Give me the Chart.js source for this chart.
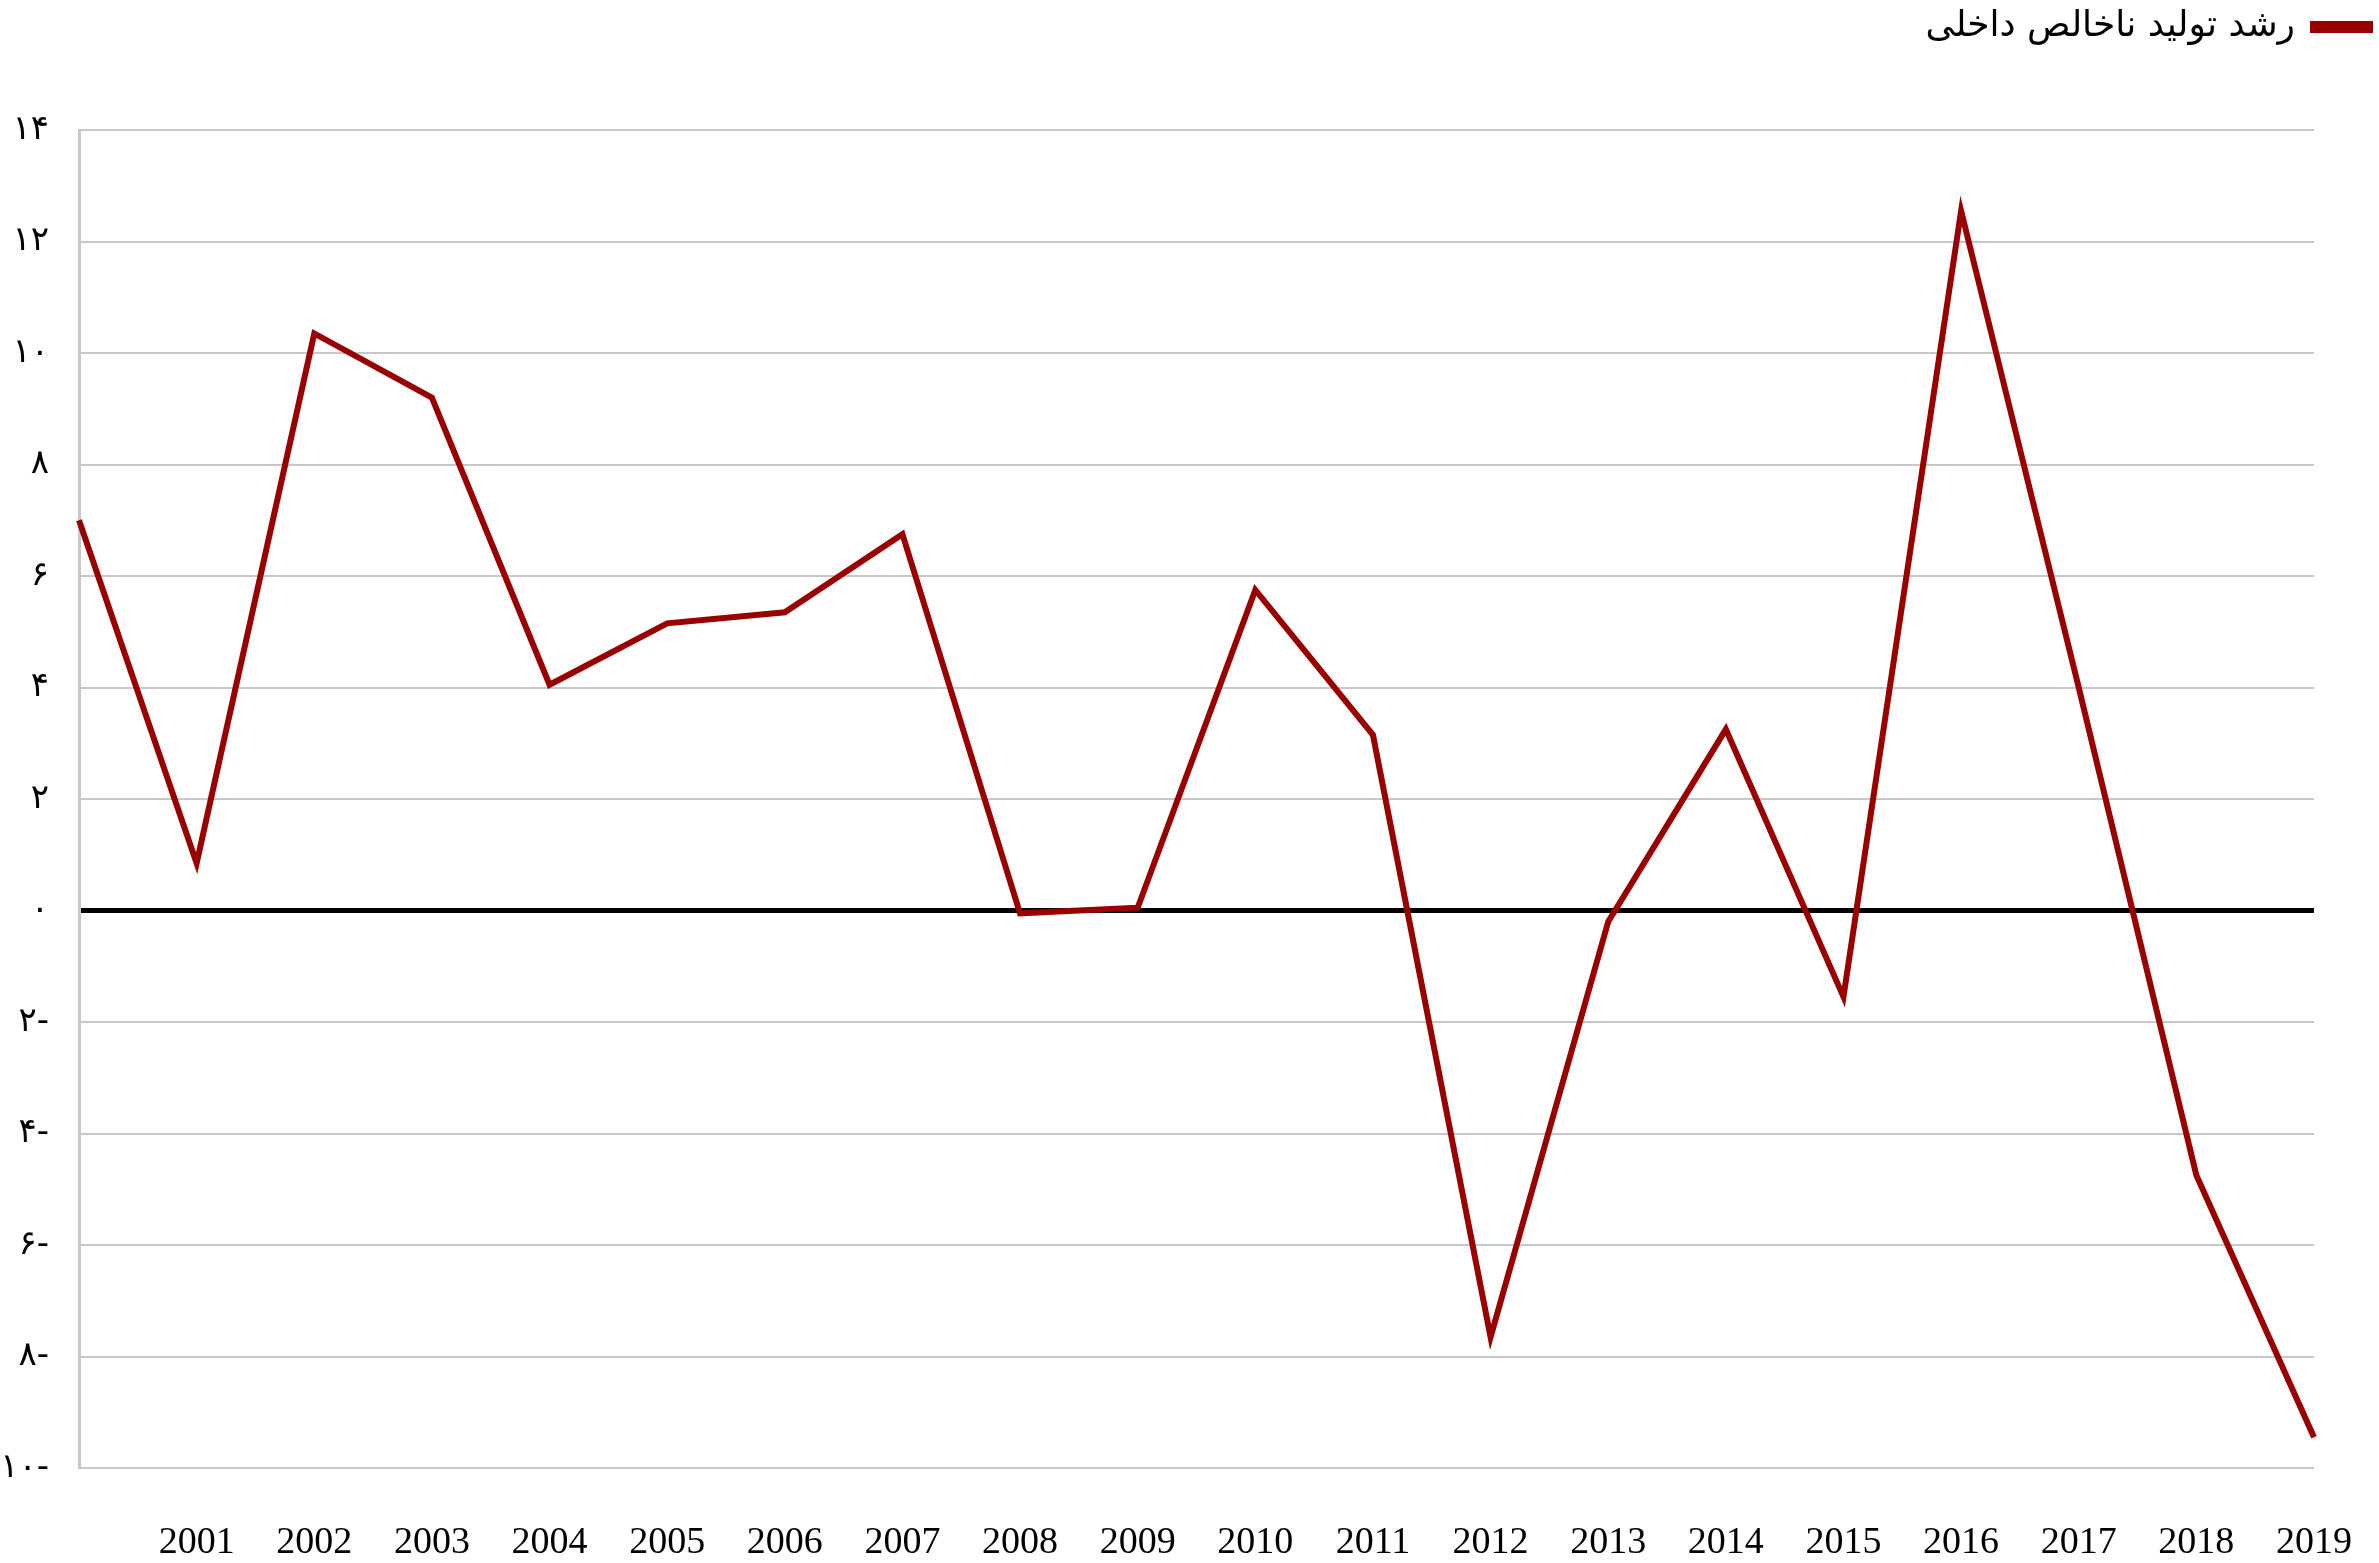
<!DOCTYPE html>
<html>
<head>
<meta charset="utf-8">
<script src="https://cdn.jsdelivr.net/npm/chart.js@4.4.1/dist/chart.umd.min.js"></script>
<style>
    body { margin: 0; background: #fff; }
    canvas { display: block; }
</style>
</head>
<body>
<canvas id="gdpChart" width="2379" height="1563"></canvas>
<script>
const years = ["", "2001", "2002", "2003", "2004", "2005", "2006", "2007", "2008", "2009",
    "2010", "2011", "2012", "2013", "2014", "2015", "2016", "2017", "2018", "2019"];
const growth = [7.0, 0.85, 10.35, 9.2, 4.05, 5.15, 5.35, 6.75, -0.05, 0.05,
    5.75, 3.15, -7.65, -0.2, 3.25, -1.55, 12.55, 4.0, -4.75, -9.45];
const yTickValues = [-10, -8, -6, -4, -2, 0, 2, 4, 6, 8, 10, 12, 14];
const yTickLabels = ["۱۰-", "۸-", "۶-", "۴-", "۲-", "۰", "۲", "۴", "۶", "۸", "۱۰", "۱۲", "۱۴"];
const seriesName = "رشد تولید ناخالص داخلی";

Chart.defaults.color = "#000";

// keep the legend band tall so the plot starts lower, like the original
const legendHeight = {
    id: "legendHeight",
    beforeUpdate(chart) {
        const lg = chart.legend;
        if (lg && !lg._patched) {
            const fit = lg.fit;
            lg.fit = function () {
                fit.call(this);
                this.height = 130;
            };
            lg._patched = true;
        }
    }
};

const ctx = document.getElementById("gdpChart");

new Chart(ctx, {
    type: "line",
    data: {
        labels: years,
        datasets: [{
            label: seriesName,
            data: growth,
            borderColor: "#990000",
            backgroundColor: "#990000",
            borderWidth: 6,
            pointRadius: 0,
            tension: 0
        }]
    },
    options: {
        responsive: false,
        animation: false,
        devicePixelRatio: 1,
        layout: { padding: 0 },
        plugins: {
            legend: {
                display: true,
                position: "top",
                align: "start",
                rtl: true,
                labels: {
                    font: { family: "DejaVu Sans", size: 36 },
                    boxWidth: 57,
                    boxHeight: 6,
                    padding: 9
                }
            },
            tooltip: { enabled: false }
        },
        scales: {
            x: {
                offset: false,
                grid: { display: false, drawTicks: false },
                border: { display: false },
                ticks: {
                    font: { family: "Liberation Serif", size: 38 },
                    padding: 52,
                    maxRotation: 0,
                    autoSkip: false
                },
                afterFit(scale) {
                    scale.height = 95;
                    scale.paddingRight = 65;
                }
            },
            y: {
                min: -10,
                max: 14,
                afterBuildTicks(scale) {
                    scale.ticks = yTickValues.map(v => ({ value: v }));
                },
                grid: {
                    drawTicks: false,
                    color: c => c.tick && c.tick.value === 0 ? "#000" : "#c8c8c8",
                    lineWidth: c => c.tick && c.tick.value === 0 ? 5 : 2
                },
                border: { display: true, color: "#c8c8c8", width: 3 },
                ticks: {
                    font: { family: "DejaVu Sans", size: 34 },
                    padding: 30,
                    callback: (value) => yTickLabels[yTickValues.indexOf(value)]
                },
                afterFit(scale) { scale.width = 79; }
            }
        }
    },
    plugins: [legendHeight]
});
</script>
</body>
</html>
